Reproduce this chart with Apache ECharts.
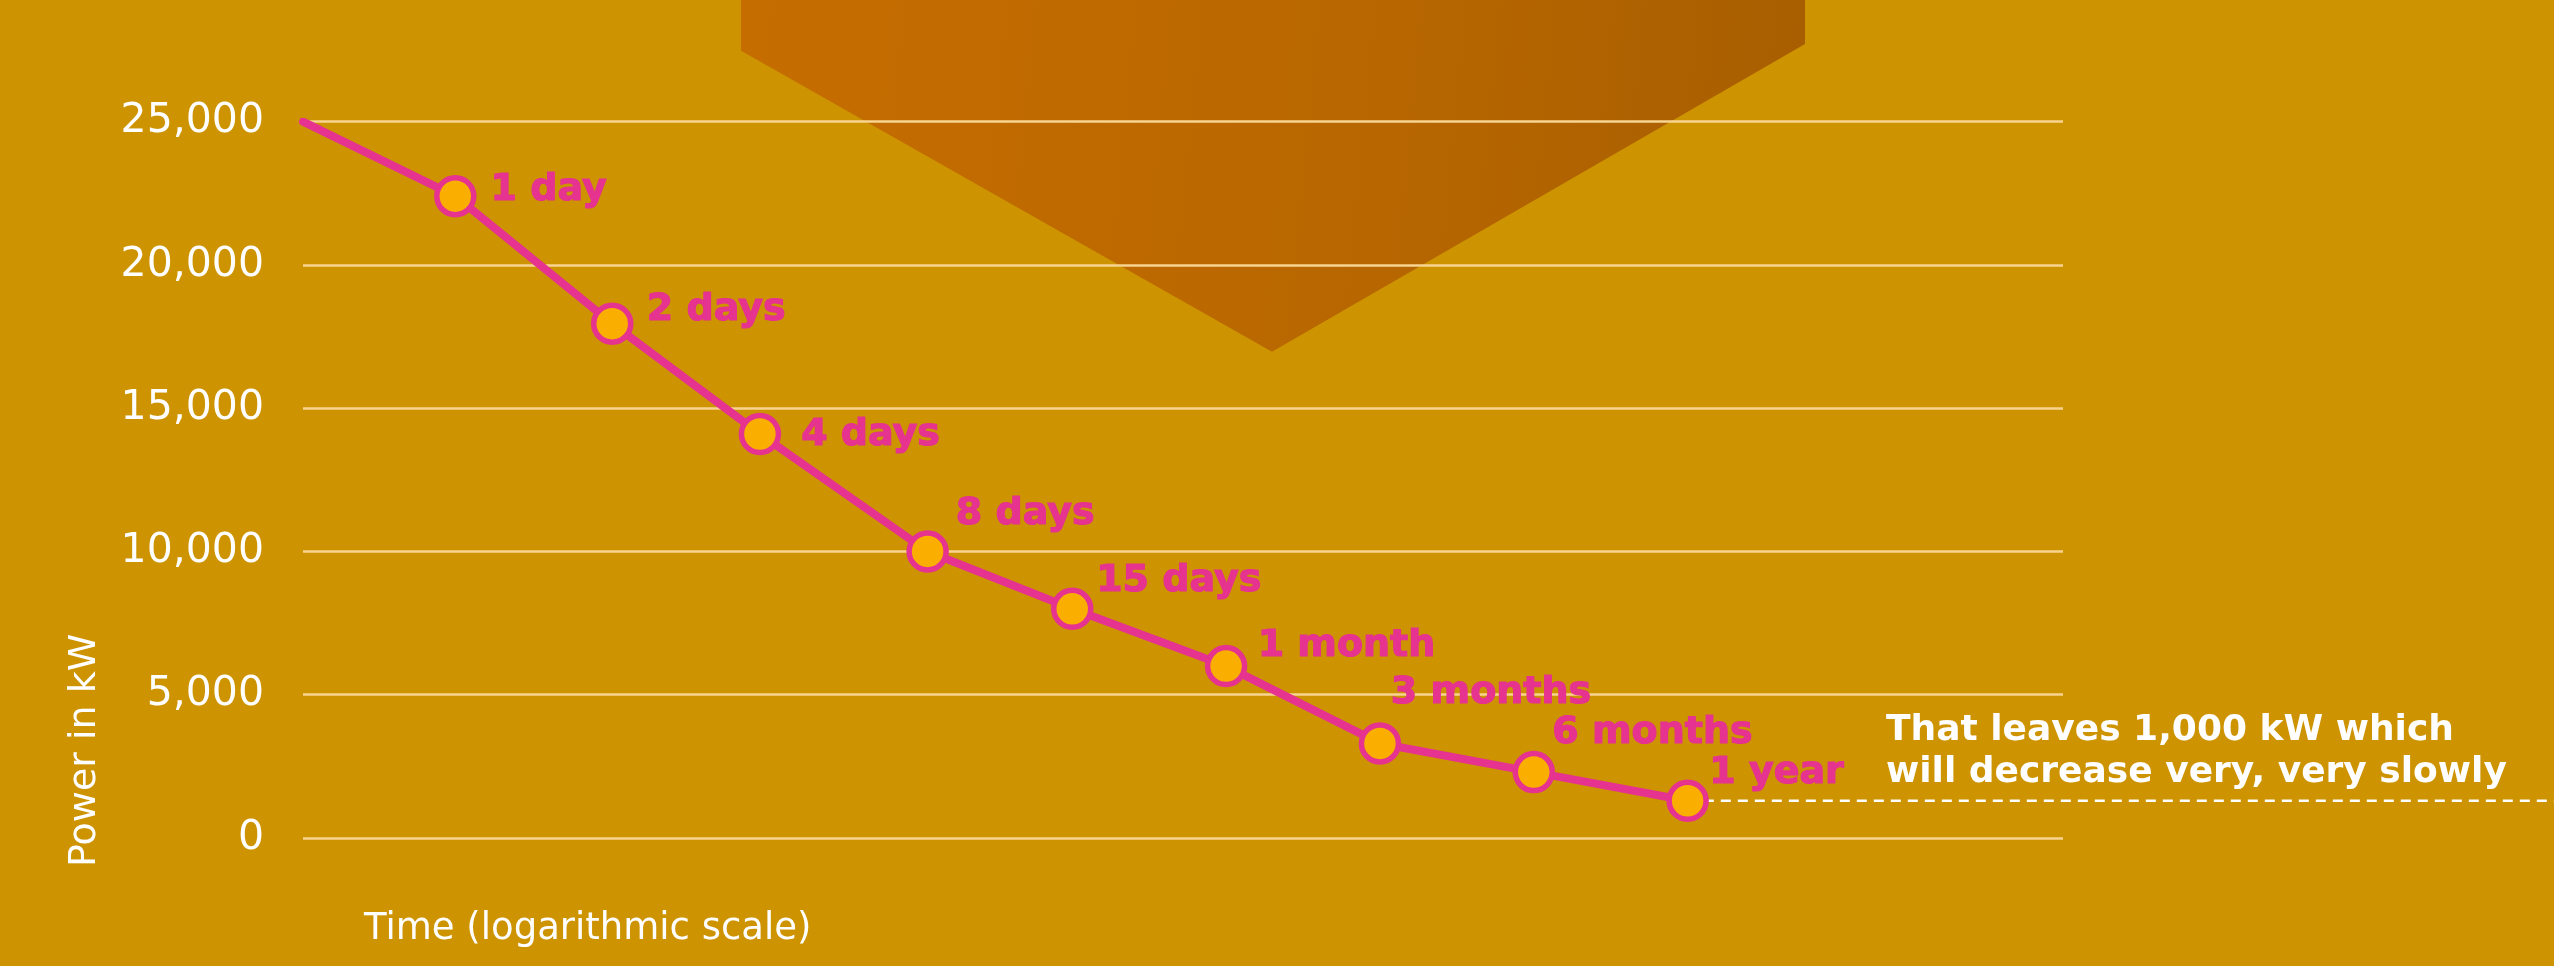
<!DOCTYPE html>
<html>
<head>
<meta charset="utf-8">
<script src="https://cdn.jsdelivr.net/npm/echarts@6/dist/echarts.min.js"></script>
<style>
  html, body { margin: 0; padding: 0; background: #CD9300; }
  #chart { width: 2554px; height: 966px; }
</style>
</head>
<body>
<div id="chart"></div>
<script>
// ---- data ----
var timeLabels = ['', '1 day', '2 days', '4 days', '8 days', '15 days', '1 month', '3 months', '6 months', '1 year'];
// horizontal position of each point on the (logarithmic-looking) time axis, in step units
var timePos = [0, 0.99, 2.01, 2.97, 4.06, 5.0, 6.0, 7.0, 8.0, 9.0];
var powerKW = [25000, 22400, 17950, 14100, 10000, 8000, 6000, 3300, 2300, 1300];
var yTicks = [0, 5000, 10000, 15000, 20000, 25000];
var yTickLabels = ['0', '5,000', '10,000', '15,000', '20,000', '25,000'];
var tailEndPos = 14.64; // the dashed "remaining power" line runs on to the right edge
var annotationText = 'That leaves 1,000 kW which\nwill decrease very, very slowly';

// ---- label layout (pixels, from marker centre to label start / label middle) ----
var labelOffsets = [[0, 0], [38, -3.5], [37.3, -11], [44, 4], [31, -35], [26.7, -25], [34.3, -17], [13.7, -48], [21.3, -36], [24.4, -25]];

var PINK = '#E6338F';
var FONT = 'DejaVu Sans';
var SYM = 37;

var mainData = timePos.map(function (x, i) {
  var item = { value: [x, powerKW[i]], name: timeLabels[i] };
  if (i === 0) {
    item.symbol = 'none';
    item.label = { show: false };
  } else {
    item.label = {
      show: true,
      formatter: timeLabels[i],
      position: [SYM / 2 + labelOffsets[i][0], SYM / 2 + labelOffsets[i][1]],
      align: 'left',
      verticalAlign: 'middle',
      color: PINK,
      textBorderColor: PINK,
      textBorderWidth: 1.2,
      fontFamily: FONT,
      fontWeight: 'bold',
      fontSize: 38
    };
  }
  return item;
});

var last = timePos.length - 1;
var tailData = [[timePos[last], powerKW[last]], [tailEndPos, powerKW[last]]];

var hiddenAxisX = {
  axisLine: { show: false }, axisTick: { show: false },
  axisLabel: { show: false }, splitLine: { show: false }
};

var chart = echarts.init(document.getElementById('chart'), null, { renderer: 'canvas' });
chart.setOption({
  backgroundColor: '#CD9300',
  animation: false,
  grid: [
    { left: 303, right: 491, top: 121.7, bottom: 128 },
    { left: 303, right: 0, top: 121.7, bottom: 128 }
  ],
  xAxis: [
    Object.assign({ type: 'value', min: 0, max: 11.44, gridIndex: 0 }, hiddenAxisX),
    Object.assign({ type: 'value', min: 0, max: tailEndPos, gridIndex: 1 }, hiddenAxisX)
  ],
  yAxis: [
    {
      type: 'value', min: 0, max: 25000, interval: 5000, gridIndex: 0,
      axisLine: { show: false }, axisTick: { show: false },
      axisLabel: {
        color: '#FFFFFF', fontFamily: FONT, fontSize: 41, margin: 39,
        formatter: function (v) { var k = yTicks.indexOf(v); return k >= 0 ? yTickLabels[k] : ''; }
      },
      splitLine: { lineStyle: { color: '#F7D590', width: 2.5 } }
    },
    {
      type: 'value', min: 0, max: 25000, interval: 5000, gridIndex: 1,
      axisLine: { show: false }, axisTick: { show: false },
      axisLabel: { show: false }, splitLine: { show: false }
    }
  ],
  graphic: [
    {
      type: 'polygon', z: -100, silent: true,
      shape: { points: [[741, 0], [741, 50.7], [1272, 351.7], [1805, 44], [1805, 0]] },
      style: {
        fill: new echarts.graphic.LinearGradient(0, 0, 1, 0.3, [
          { offset: 0, color: '#C66D00' },
          { offset: 0.6, color: '#B86700' },
          { offset: 1, color: '#A85E00' }
        ])
      }
    },
    {
      type: 'text', z: 100, silent: true,
      x: 85.5, y: 867, rotation: Math.PI / 2,
      style: { text: 'Power in kW', fill: '#FFFFFF', font: '38px "DejaVu Sans"', align: 'left', verticalAlign: 'middle' }
    },
    {
      type: 'text', z: 100, silent: true,
      x: 364, y: 929,
      style: { text: 'Time (logarithmic scale)', fill: '#FFFFFF', font: '37px "DejaVu Sans"', align: 'left', verticalAlign: 'middle' }
    },
    {
      type: 'text', z: 100, silent: true,
      x: 1886, y: 752,
      style: { text: annotationText, fill: '#FFFFFF', font: 'bold 36px "DejaVu Sans"', lineHeight: 42, align: 'left', verticalAlign: 'middle' }
    }
  ],
  series: [
    {
      type: 'line', name: 'tail', data: tailData, xAxisIndex: 1, yAxisIndex: 1,
      silent: true, symbol: 'none', z: 1,
      lineStyle: { color: '#FFFFFF', width: 2.5, type: [10, 7] }
    },
    {
      type: 'line', name: 'power', data: mainData, xAxisIndex: 0, yAxisIndex: 0, z: 3,
      symbol: 'circle', symbolSize: SYM,
      itemStyle: { color: '#F9AE00', borderColor: PINK, borderWidth: 5.5 },
      lineStyle: { color: PINK, width: 8, cap: 'round', join: 'round' }
    }
  ]
});
</script>
</body>
</html>
